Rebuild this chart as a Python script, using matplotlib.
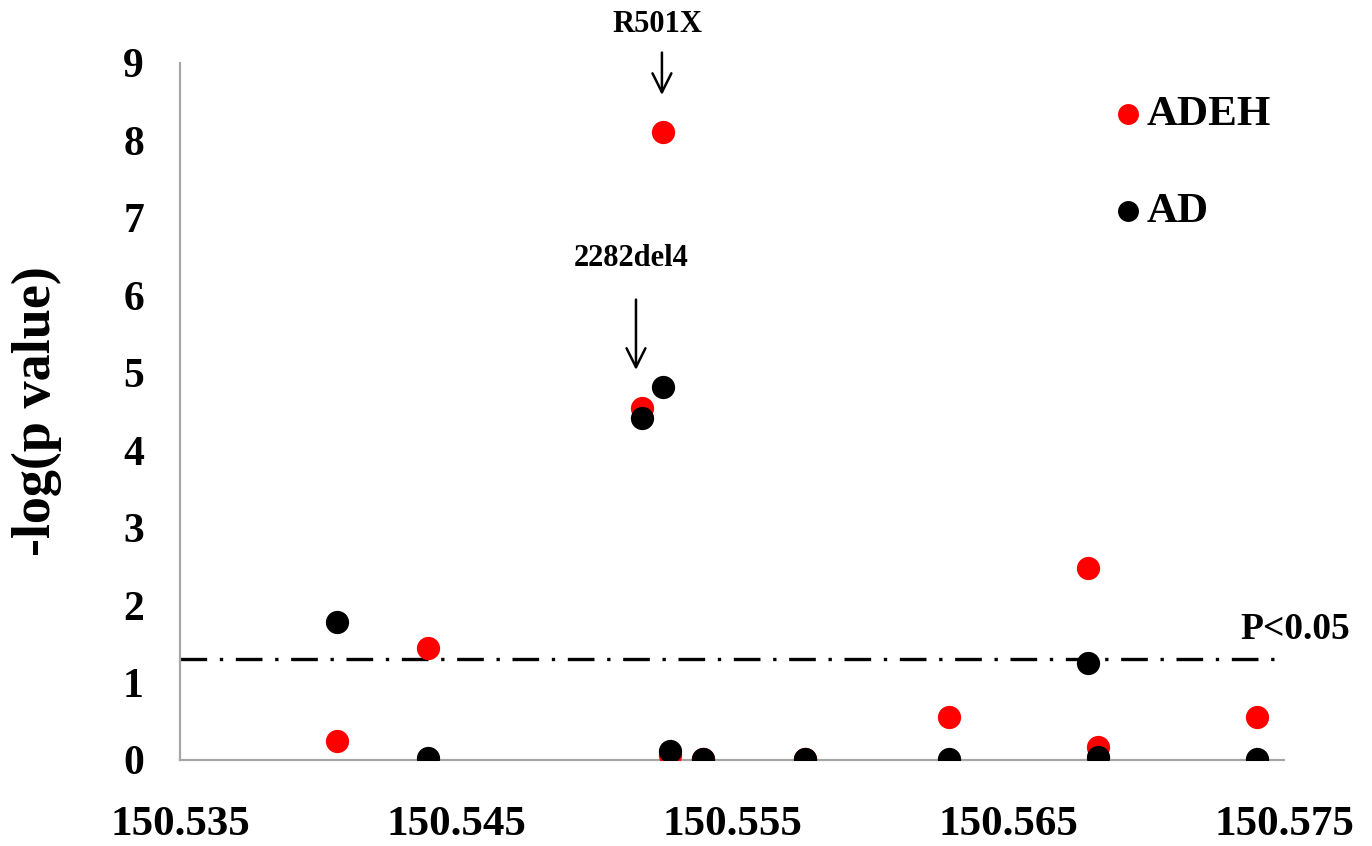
import matplotlib
matplotlib.use("Agg")
import matplotlib.pyplot as plt

# Data (position in Mb, -log10 p)
adeh_x = [150.54069, 150.54399, 150.55174, 150.55250, 150.55275, 150.55395,
          150.55764, 150.56286, 150.56790, 150.56826, 150.57402]
adeh_y = [0.24, 1.45, 4.55, 8.11, 0.06, 0.01, 0.01, 0.56, 2.48, 0.17, 0.56]

ad_x = [150.54069, 150.54399, 150.55174, 150.55250, 150.55275, 150.55395,
        150.55764, 150.56286, 150.56790, 150.56826, 150.57402]
ad_y = [1.78, 0.03, 4.42, 4.82, 0.12, 0.01, 0.01, 0.01, 1.25, 0.04, 0.01]

xticks = [150.535, 150.545, 150.555, 150.565, 150.575]
xtick_labels = ["150.535", "150.545", "150.555", "150.565", "150.575"]
yticks = [0, 1, 2, 3, 4, 5, 6, 7, 8, 9]
threshold = 1.30

plt.rcParams['font.family'] = ['Liberation Serif', 'DejaVu Serif']
plt.rcParams['font.weight'] = 'bold'

fig = plt.figure(figsize=(13.72, 8.46), dpi=100)
ax = fig.add_axes([0.1312, 0.1017, 0.8047, 0.8239])

ax.scatter(adeh_x, adeh_y, s=280, color='#ff0000', zorder=3, label='ADEH', linewidths=0)
ax.scatter(ad_x, ad_y, s=280, color='#000000', zorder=4, label='AD', linewidths=0)

ax.axhline(threshold, xmax=0.998, color='black', lw=2.4, linestyle=(0, (8, 3.8, 1, 3.8)), zorder=2)
ax.text(150.57341, 1.68, "P<0.05", fontsize=27, fontweight='bold', ha='left', va='center',
        clip_on=False)

ax.set_xlim(150.535, 150.575)
ax.set_ylim(0, 9)
ax.set_xticks(xticks)
ax.set_xticklabels(xtick_labels)
ax.set_yticks(yticks)

for s in ['top', 'right']:
    ax.spines[s].set_visible(False)
for s in ['left', 'bottom']:
    ax.spines[s].set_color('#a6a6a6')
    ax.spines[s].set_linewidth(1.6)

ax.tick_params(axis='x', length=0, pad=33, labelsize=31)
ax.tick_params(axis='y', length=0, pad=26, labelsize=30)
for lab in ax.get_xticklabels() + ax.get_yticklabels():
    lab.set_fontweight('bold')

ax.set_ylabel("-log(p value)", fontsize=39, fontweight='bold')
ax.yaxis.set_label_coords(-0.107, 0.50)

# annotations
ax.annotate("", xy=(150.55246, 8.55), xytext=(150.55246, 9.17),
            arrowprops=dict(arrowstyle='->', lw=1.8, color='black', mutation_scale=34),
            annotation_clip=False)
ax.text(150.55228, 9.49, "R501X", fontsize=22, fontweight='bold', ha='center', va='center',
        clip_on=False)
ax.annotate("", xy=(150.55152, 5.0), xytext=(150.55152, 5.98),
            arrowprops=dict(arrowstyle='->', lw=1.8, color='black', mutation_scale=34),
            annotation_clip=False)
ax.text(150.55134, 6.47, "2282del4", fontsize=22, fontweight='bold', ha='center', va='center')

leg = ax.legend(loc='upper left', bbox_to_anchor=(0.80, 1.01), frameon=False,
                markerscale=0.9, handletextpad=-0.16, labelspacing=1.35,
                handlelength=1.2, prop={'weight': 'bold', 'size': 31})

fig.savefig("out.png", dpi=100)
